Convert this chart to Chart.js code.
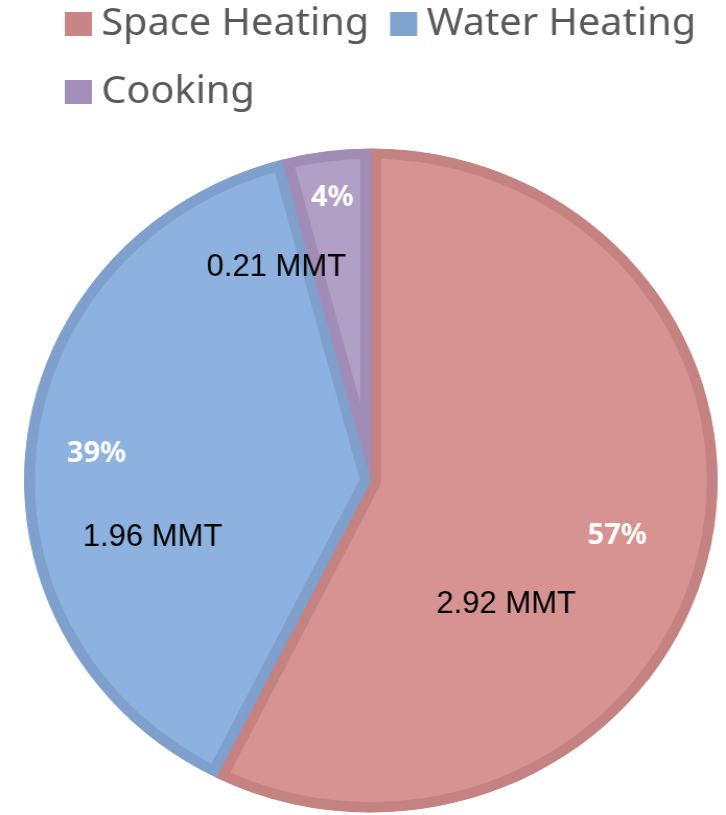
<!DOCTYPE html>
<html>
<head>
<meta charset="utf-8">
<script src="https://cdn.jsdelivr.net/npm/chart.js@4.4.1/dist/chart.umd.min.js"></script>
<style>
    html, body { margin: 0; padding: 0; background: #ffffff; }
    /* the original pie is a little wider than it is tall */
    #wrap { width: 695px; height: 815px; transform: scaleX(1.0446); transform-origin: 0 0; }
</style>
</head>
<body>
<div id="wrap"><canvas id="pieChart"></canvas></div>
<script>
// Chart data
const categories = ['Space Heating', 'Water Heating', 'Cooking'];
const emissions = [2.92, 1.96, 0.21];
const units = 'MMT';

// Colours
const fillColors = ['#d69391', '#8db2df', '#b19fc6'];
const borderColors = ['#c48281', '#7fa0cc', '#a08cb5'];
const keyColors = ['#c88584', '#80a3d0', '#a48fbb'];

// Horizontal stretch applied to the canvas (see #wrap)
const STRETCH = 1.0446;

// Label placement: percent label at a fraction of the radius,
// value label shifted from it in screen pixels
const pctRadius = [0.73, 0.795, 0.86];
const valueShift = [[-111, 68], [56, 84], [-56, 70]];

// Draw text without the canvas stretch
function drawText(ctx, text, x, y, font, color) {
    ctx.save();
    ctx.translate(x, y);
    ctx.scale(1 / STRETCH, 1);
    ctx.font = font;
    ctx.fillStyle = color;
    ctx.textAlign = 'center';
    ctx.textBaseline = 'middle';
    ctx.fillText(text, 0, 0);
    ctx.restore();
}

// Percent and value labels on each slice
const sliceLabels = {
    id: 'sliceLabels',
    afterDatasetsDraw(chart) {
        const ctx = chart.ctx;
        const arcs = chart.getDatasetMeta(0).data;
        const total = emissions.reduce((a, b) => a + b, 0);
        arcs.forEach((arc, i) => {
            const { x, y, startAngle, endAngle, outerRadius } =
                arc.getProps(['x', 'y', 'startAngle', 'endAngle', 'outerRadius'], true);
            const mid = (startAngle + endAngle) / 2;
            const px = x + Math.cos(mid) * outerRadius * pctRadius[i];
            const py = y + Math.sin(mid) * outerRadius * pctRadius[i];
            const pct = Math.round(emissions[i] / total * 100) + '%';
            drawText(ctx, pct, px, py, 'bold 29px "Noto Sans"', '#ffffff');
            drawText(ctx, emissions[i].toFixed(2) + ' ' + units,
                px + valueShift[i][0] / STRETCH, py + valueShift[i][1],
                '31px "Liberation Sans"', '#000000');
        });
    }
};

// Move the legend to the top-left corner, keeping the pie centred
const legendNudge = {
    id: 'legendNudge',
    afterLayout(chart) {
        const lg = chart.legend;
        lg.left += 27;
        lg.right += 27;
        lg.top -= 25;
        lg.bottom -= 25;
    }
};

new Chart(document.getElementById('pieChart'), {
    type: 'pie',
    data: {
        labels: categories,
        datasets: [{
            data: emissions,
            backgroundColor: fillColors,
            borderColor: borderColors,
            borderWidth: 10,
            borderAlign: 'inner',
            radius: 332
        }]
    },
    options: {
        responsive: true,
        maintainAspectRatio: false,
        animation: false,
        layout: { padding: { left: 15, right: 0, top: 0, bottom: 0 } },
        plugins: {
            legend: {
                position: 'top',
                align: 'start',
                labels: {
                    boxWidth: 6,
                    boxHeight: 4,
                    padding: 30,
                    color: '#595959',
                    font: { family: 'Noto Sans', size: 38 },
                    generateLabels: (chart) => chart.data.labels.map((text, i) => ({
                        text,
                        fillStyle: keyColors[i],
                        strokeStyle: keyColors[i],
                        lineWidth: 20,
                        fontColor: '#595959',
                        hidden: false,
                        index: i
                    }))
                }
            },
            tooltip: { enabled: false }
        }
    },
    plugins: [legendNudge, sliceLabels]
});
</script>
</body>
</html>
